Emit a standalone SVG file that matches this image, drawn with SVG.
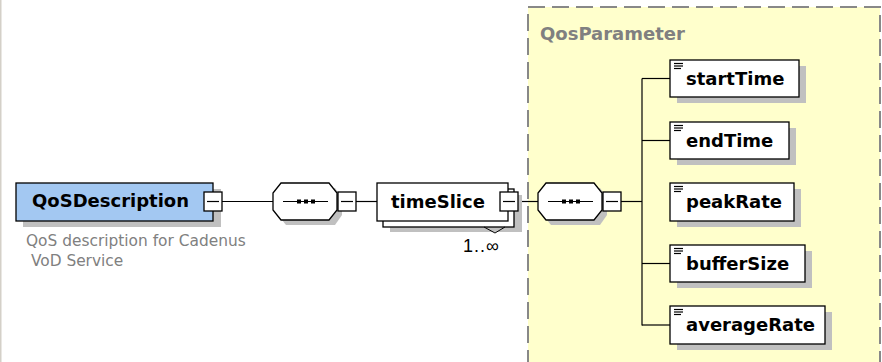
<svg xmlns="http://www.w3.org/2000/svg" width="882" height="362" viewBox="0 0 882 362">
<style>
.shadow{fill:#c0c0c0;stroke:none}
.box{fill:#ffffff;stroke:#000;stroke-width:1.3}
.blue{fill:#a3c8f2;stroke:#000;stroke-width:1.3}
.lbl{font-family:"DejaVu Sans",Verdana,sans-serif;font-weight:bold;font-size:18px;fill:#000}
.grey{font-family:"DejaVu Sans",Verdana,sans-serif;font-size:15.4px;fill:#808080}
.conn{stroke:#000;stroke-width:1.2;fill:none}
</style>
<defs>
<g id="minus">
<rect x="0" y="0" width="18" height="19" fill="#fff" stroke="#000" stroke-width="1.3"/>
<line x1="3" y1="9.5" x2="15" y2="9.5" stroke="#000" stroke-width="1.2"/>
</g>
<g id="seq">
<polygon class="shadow" points="13,5 62,5 69,15 69,32 62,42 13,42 5,32 5,15"/>
<polygon fill="#fff" stroke="#000" stroke-width="1.3" points="8,0 56,0 64,10 64,27 56,37 8,37 0,27 0,10"/>
<line x1="10" y1="18.5" x2="55" y2="18.5" stroke="#000" stroke-width="1.2"/>
<rect x="24" y="16.5" width="4" height="4" fill="#000"/>
<rect x="31" y="16.5" width="4" height="4" fill="#000"/>
<rect x="38" y="16.5" width="4" height="4" fill="#000"/>
</g>
<g id="elicon" stroke="#000" stroke-width="1.2">
<line x1="3" y1="3.5" x2="12" y2="3.5"/>
<line x1="3" y1="6" x2="12" y2="6"/>
<line x1="3" y1="8.5" x2="10" y2="8.5"/>
</g>
</defs>
<rect x="0" y="0" width="882" height="362" fill="#fff"/>
<rect x="0" y="0" width="1.5" height="362" fill="#d4d0c8"/>

<g id="QosParameter-group">
<rect x="528" y="7" width="352" height="380" fill="#ffffcc" stroke="#888888" stroke-width="2" stroke-dasharray="17,7"/>
<text x="540" y="40" class="lbl" style="fill:#808080">QosParameter</text>
</g>

<g id="connectors">
<line class="conn" x1="222" y1="201.5" x2="273" y2="201.5"/>
<line class="conn" x1="356" y1="201.5" x2="377" y2="201.5"/>
<line class="conn" x1="518" y1="201.5" x2="538" y2="201.5"/>
<line class="conn" x1="621" y1="201.5" x2="642" y2="201.5"/>
<line class="conn" x1="642" y1="78.5" x2="642" y2="325.5"/>
<line class="conn" x1="642" y1="78.5" x2="670" y2="78.5"/>
<line class="conn" x1="642" y1="140.5" x2="670" y2="140.5"/>
<line class="conn" x1="642" y1="263.5" x2="670" y2="263.5"/>
<line class="conn" x1="642" y1="325" x2="670" y2="325"/>
</g>

<g id="QoSDescription">
<rect class="shadow" x="23" y="189" width="198" height="38"/>
<rect class="blue" x="16" y="183" width="197" height="38"/>
<text x="32" y="207" class="lbl">QoSDescription</text>
<use href="#minus" x="204" y="192"/>
<text x="26" y="246" class="grey">QoS description for Cadenus</text>
<text x="26" y="266" class="grey" xml:space="preserve"> VoD Service</text>
</g>

<g id="sequence1">
<use href="#seq" x="273" y="183"/>
<use href="#minus" x="338" y="192"/>
</g>

<g id="timeSlice">
<rect class="shadow" x="390" y="195" width="132" height="37"/>
<rect class="box" x="383" y="189" width="131" height="38"/>
<rect class="box" x="377" y="183" width="131" height="38"/>
<polyline points="484,227 495,233 505,227" fill="none" stroke="#000" stroke-width="1"/>
<text x="391" y="208" class="lbl">timeSlice</text>
<use href="#minus" x="500" y="192"/>
<text x="463" y="252" font-family="'Liberation Sans',Arial,sans-serif" font-size="18" letter-spacing="1" fill="#000">1..∞</text>
</g>

<g id="sequence2">
<use href="#seq" x="538" y="183"/>
<use href="#minus" x="603" y="192"/>
</g>

<g id="startTime">
<rect class="shadow" x="677" y="66" width="129" height="37"/>
<rect class="box" x="670" y="60" width="129" height="37"/>
<use href="#elicon" x="671" y="60"/>
<text x="686" y="85" class="lbl">startTime</text>
</g>

<g id="endTime">
<rect class="shadow" x="677" y="128" width="119" height="37"/>
<rect class="box" x="670" y="122" width="119" height="37"/>
<use href="#elicon" x="671" y="122"/>
<text x="686" y="147" class="lbl">endTime</text>
</g>

<g id="peakRate">
<rect class="shadow" x="677" y="189" width="124" height="38"/>
<rect class="box" x="670" y="183" width="124" height="38"/>
<use href="#elicon" x="671" y="183"/>
<text x="686" y="208" class="lbl">peakRate</text>
</g>

<g id="bufferSize">
<rect class="shadow" x="677" y="251" width="135" height="37"/>
<rect class="box" x="670" y="245" width="135" height="37"/>
<use href="#elicon" x="671" y="245"/>
<text x="686" y="270" class="lbl">bufferSize</text>
</g>

<g id="averageRate">
<rect class="shadow" x="677" y="312" width="155" height="38"/>
<rect class="box" x="670" y="306" width="155" height="38"/>
<use href="#elicon" x="671" y="306"/>
<text x="686" y="331" class="lbl">averageRate</text>
</g>
</svg>
